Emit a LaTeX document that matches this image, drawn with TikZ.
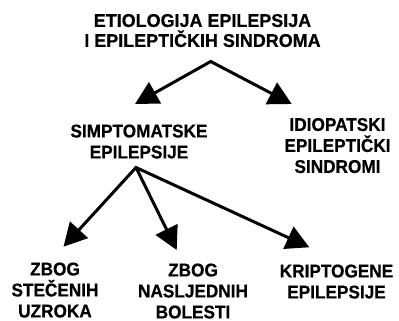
\documentclass[tikz,border=0pt]{standalone}
\usepackage{fontspec}
\setmainfont{Liberation Sans}[FakeStretch=0.97,BoldFeatures={FakeBold=0.6}]
\newfontfamily\narrowsans{Liberation Sans}[FakeStretch=0.93,BoldFeatures={FakeBold=0.6}]
\usetikzlibrary{arrows.meta}
\tikzset{
  lbl/.style={inner sep=0pt, outer sep=0pt, anchor=north, align=center, text=black},
  toplbl/.style={lbl, font=\fontsize{18.5}{20}\selectfont\bfseries},
  sublbl/.style={lbl, font=\fontsize{18.5}{21}\selectfont\narrowsans\bfseries},
  conn/.style={line width=3pt, line join=miter, draw=black},
  head/.tip={Triangle[length=23pt,width=24pt]}
}
\begin{document}
\begin{tikzpicture}[x=1pt,y=-1pt]
\useasboundingbox (0,0) rectangle (399,321);
\node[toplbl] (root) at (202.5,14) {ETIOLOGIJA EPILEPSIJA\\I EPILEPTIČKIH SINDROMA};
\node[sublbl] (simp) at (139,124.5) {SIMPTOMATSKE\\EPILEPSIJE};
\node[sublbl] (idio) at (337.5,118) {IDIOPATSKI\\EPILEPTIČKI\\SINDROMI};
\node[sublbl] (stec) at (55,262.5) {ZBOG\\STEČENIH\\UZROKA};
\node[sublbl] (nasl) at (193,263.5) {ZBOG\\NASLJEDNIH\\BOLESTI};
\node[sublbl] (krip) at (336.5,264.5) {KRIPTOGENE\\EPILEPSIJE};
% connector points
\coordinate (rootapex) at (210.7,61.5);
\coordinate (simptip) at (135,104);
\coordinate (idiotip) at (291.7,104);
\coordinate (simpapex) at (136,167.5);
\coordinate (stectip) at (63.5,246.7);
\coordinate (nasltip) at (176.7,250);
\coordinate (kriptip) at (309.3,247.3);
\draw[conn, head-head] (simptip) -- (rootapex) -- (idiotip);
\draw[conn, head-head] (stectip) -- (simpapex) -- (kriptip);
\draw[conn, -head] (simpapex) -- (nasltip);
\end{tikzpicture}
\end{document}
